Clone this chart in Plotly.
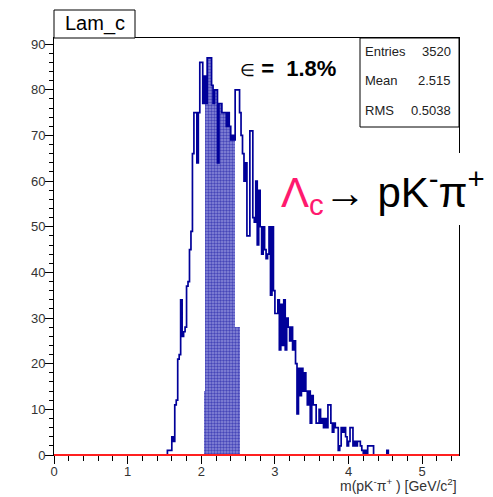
import plotly.graph_objects as go

# ---------------- data ----------------
bin_lo = 1.54          # lower edge of first listed bin  [GeV/c^2]
bin_width = 0.02
counts = [1, 1, 1, 4, 3, 11, 12, 21, 22, 34, 26, 27, 28, 37, 38, 45, 49, 66, 75, 75,
          64, 75, 86, 86, 77, 83, 77, 87, 87, 87, 81, 77, 80, 80, 64, 77, 77, 75, 75, 75,
          72, 75, 72, 69, 70, 69, 80, 80, 80, 75, 70, 66, 60, 64, 48, 48, 71, 71, 52, 51,
          60, 46, 58, 50, 44, 50, 45, 43, 44, 50, 35, 50, 36, 31, 31, 34, 23, 33, 24, 34,
          23, 30, 28, 25, 28, 23, 25, 20, 9, 19, 13, 19, 14, 18, 14, 11, 14, 7, 13, 11,
          11, 7, 7, 10, 7, 8, 6, 8, 6, 11, 11, 7, 5, 7, 6, 6, 1, 2, 6, 5,
          6, 4, 2, 3, 6, 6, 2, 3, 2, 3, 3, 2, 1, 0, 1, 0, 2, 2, 2, 2,
          0, 0, 0, 0, 0, 0, 0, 0, 0, 1]

sel_lo = 2.04          # selected (signal window) histogram
sel_counts = [14, 77, 87, 87, 87, 81, 77, 80, 80, 64, 77, 77, 75, 75, 75, 72, 75, 72,
              69, 70, 69, 28, 28, 28]

x_range = [0, 5.5]
y_max = 91.35
stats_labels = ["Entries", "Mean", "RMS"]
stats_values = ["3520", "2.515", "0.5038"]
hist_title = "Lam_c"
eff_text = "1.8%"

# ---------------- geometry helpers ----------------
W, H = 493, 497
ML, MR, MT, MB = 54, 34, 38, 42
PW, PH = W - ML - MR, H - MT - MB


def px(xp):
    return (xp - ML) / PW


def py(yp):
    return (H - MB - yp) / PH


NAVY = "#000099"
FONT = "Liberation Sans, Arial, sans-serif"

# step outline from the bin contents
edges = [bin_lo + i * bin_width for i in range(len(counts) + 1)]
sx, sy = [edges[0]], [0]
for i, c in enumerate(counts):
    sx += [edges[i], edges[i + 1]]
    sy += [c, c]
sx.append(edges[-1])
sy.append(0)

sel_x = [sel_lo + (i + 0.5) * bin_width for i in range(len(sel_counts))]

fig = go.Figure()
fig.add_trace(go.Bar(
    x=sel_x, y=sel_counts, width=bin_width,
    marker=dict(color="white", line=dict(width=0),
                pattern=dict(shape=".", fgcolor=NAVY, bgcolor="#8c8cd8",
                             size=3, solidity=0.5)),
    showlegend=False, hoverinfo="skip"))
fig.add_trace(go.Scatter(
    x=sx, y=sy, mode="lines", line=dict(color=NAVY, width=1.7),
    showlegend=False, hoverinfo="skip"))

# red zero function along the axis
fig.add_shape(type="line", xref="x", yref="paper", x0=x_range[0], x1=x_range[1],
              y0=0, y1=0, line=dict(color="#ff2020", width=2), layer="above")

axis_common = dict(showline=True, linecolor="black", linewidth=1, mirror=True,
                   ticks="outside", tickcolor="black", tickwidth=1, ticklen=8,
                   showgrid=False, zeroline=False,
                   tickfont=dict(family=FONT, size=13, color="#333333"))
fig.update_xaxes(range=x_range, tick0=0, dtick=1, ticklabelstandoff=-4,
                 minor=dict(dtick=0.2, ticks="outside", ticklen=5, tickcolor="black"),
                 **axis_common)
fig.update_yaxes(range=[0, y_max], tick0=0, dtick=10, ticklabelstandoff=-3,
                 minor=dict(dtick=2, ticks="outside", ticklen=4, tickcolor="black"),
                 **axis_common)

# title box
fig.add_shape(type="rect", xref="paper", yref="paper", x0=px(54), x1=px(135),
              y0=py(38), y1=py(10), line=dict(color="black", width=1),
              fillcolor="white", layer="above")
fig.add_annotation(xref="paper", yref="paper", x=px(94.5), y=py(24), text=hist_title,
                   xanchor="center", yanchor="middle", showarrow=False,
                   font=dict(family=FONT, size=20, color="black"))

# stats box
fig.add_shape(type="rect", xref="paper", yref="paper", x0=px(360), x1=px(459),
              y0=py(127), y1=py(38), line=dict(color="black", width=1),
              fillcolor="white", layer="above")
for i, (lab, val) in enumerate(zip(stats_labels, stats_values)):
    yy = py(51 + 29.5 * i)
    fig.add_annotation(xref="paper", yref="paper", x=px(363), y=yy, text=lab,
                       xanchor="left", yanchor="middle", showarrow=False,
                       font=dict(family=FONT, size=13, color="#222222"))
    fig.add_annotation(xref="paper", yref="paper", x=px(453), y=yy, text=val,
                       xanchor="right", yanchor="middle", showarrow=False,
                       font=dict(family=FONT, size=13, color="#222222"))

# efficiency label
fig.add_annotation(xref="paper", yref="paper", x=px(238), y=py(68),
                   text="<span style='font-size:17px'>∈</span> <b>=  " + eff_text + "</b>",
                   xanchor="left", yanchor="middle", showarrow=False,
                   font=dict(family=FONT, size=22, color="black"))

# decay label with white background
fig.add_shape(type="rect", xref="paper", yref="paper", x0=px(261), x1=px(520),
              y0=py(225), y1=py(153), line=dict(width=0), fillcolor="white",
              layer="above")
fig.add_annotation(xref="paper", yref="paper", x=px(279), y=py(191),
                   text="<span style='color:#ff1a6e'>Λ<sub>c</sub></span>→ pK<sup>-</sup>π<sup>+</sup>",
                   xanchor="left", yanchor="middle", showarrow=False,
                   font=dict(family=FONT, size=42, color="black"))

# x axis title
fig.add_annotation(xref="paper", yref="paper", x=1.0, y=py(485),
                   text="m(pK<sup>-</sup>π<sup>+</sup> ) [GeV/c<sup>2</sup>]",
                   xanchor="right", yanchor="middle", showarrow=False,
                   font=dict(family=FONT, size=14, color="#333333"))

fig.update_layout(width=W, height=H, margin=dict(l=ML, r=MR, t=MT, b=MB),
                  paper_bgcolor="white", plot_bgcolor="white", bargap=0,
                  barmode="overlay")
fig.write_html("out.html")
